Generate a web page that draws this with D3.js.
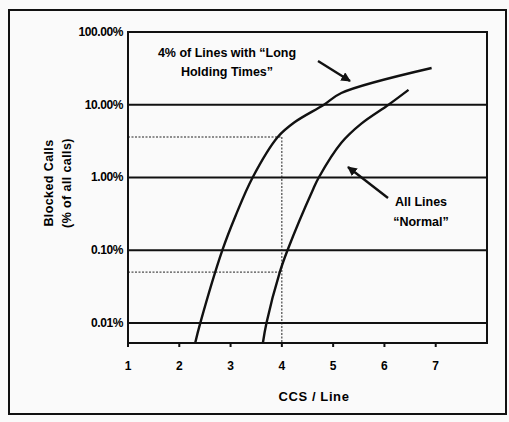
<!DOCTYPE html>
<html>
<head>
<meta charset="utf-8">
<style>
    body { margin: 0; background: #fafafa; }
    svg { display: block; font-family: "Liberation Sans", Arial, sans-serif; font-weight: bold; }
</style>
</head>
<body>
<svg width="509" height="422"></svg>
<script src="https://d3js.org/d3.v7.min.js"></script>
<script>
    // values (x = CCS/line, y = blocked calls fraction)
    let longX = [2.31, 2.41, 2.84, 3.10, 3.43, 3.92, 4.24, 4.82, 5.16, 6.92]
    let longY = [0.000053, 0.0001, 0.001, 0.003, 0.01, 0.036, 0.057, 0.10, 0.145, 0.32]

    let normX = [3.63, 3.70, 3.96, 4.11, 4.61, 4.72, 5.16, 5.55, 6.08, 6.47]
    let normY = [0.000053, 0.0001, 0.0005, 0.001, 0.0069, 0.01, 0.03, 0.055, 0.10, 0.16]

    let yTicks = [1, 0.1, 0.01, 0.001, 0.0001]
    let yTickLabels = ["100.00%", "10.00%", "1.00%", "0.10%", "0.01%"]
    let xTicks = [1, 2, 3, 4, 5, 6, 7]

    let svg = d3.select("svg")

    // outer frame
    svg.append("rect")
        .attr("x", 9).attr("y", 10)
        .attr("width", 497).attr("height", 404)
        .style("fill", "none")
        .style("stroke", "#111")
        .style("stroke-width", 2)

    let pl = 128, pr = 487, pt = 32, pb = 343

    let x = d3.scaleLinear().domain([1, 8]).range([pl, pr])
    let y = d3.scaleLog().domain([0.000053, 1]).range([pb, pt])

    // grid lines
    svg.selectAll(".grid")
        .data(yTicks.slice(1))
        .join("line")
        .attr("x1", pl).attr("x2", pr)
        .attr("y1", d => y(d)).attr("y2", d => y(d))
        .style("stroke", "#111")
        .style("stroke-width", 2)

    // dotted guides at 4 CCS
    let guides = [
        [[1, 0.036], [4, 0.036]],
        [[1, 0.0005], [4, 0.0005]],
        [[4, 0.036], [4, 0.000053]]
    ]
    svg.selectAll(".guide")
        .data(guides)
        .join("line")
        .attr("x1", d => x(d[0][0])).attr("y1", d => y(d[0][1]))
        .attr("x2", d => x(d[1][0])).attr("y2", d => y(d[1][1]))
        .style("stroke", "#222")
        .style("stroke-width", 1)
        .style("stroke-dasharray", "2,1.5")

    // plot frame
    svg.append("rect")
        .attr("x", pl).attr("y", pt)
        .attr("width", pr - pl).attr("height", pb - pt)
        .style("fill", "none")
        .style("stroke", "#111")
        .style("stroke-width", 2)

    // y labels
    svg.selectAll(".ylab")
        .data(yTicks)
        .join("text")
        .attr("x", pl - 5)
        .attr("y", d => y(d) + 4)
        .attr("text-anchor", "end")
        .style("font-size", "12px")
        .style("letter-spacing", "-0.4px")
        .text((d, i) => yTickLabels[i])

    // x ticks + labels
    svg.selectAll(".xtick")
        .data(xTicks)
        .join("line")
        .attr("x1", d => x(d)).attr("x2", d => x(d))
        .attr("y1", pb).attr("y2", pb + 4)
        .style("stroke", "#111")
        .style("stroke-width", 2)

    svg.selectAll(".xlab")
        .data(xTicks)
        .join("text")
        .attr("x", d => x(d))
        .attr("y", 370)
        .attr("text-anchor", "middle")
        .style("font-size", "12px")
        .text(d => d)

    svg.append("text")
        .attr("x", 314).attr("y", 401)
        .attr("text-anchor", "middle")
        .style("font-size", "13px")
        .style("letter-spacing", "0.6px")
        .text("CCS / Line")

    let yTitle = svg.append("text")
        .attr("transform", "translate(53,183) rotate(-90)")
        .attr("text-anchor", "middle")
        .style("font-size", "12.5px")
        .style("letter-spacing", "0.4px")
    yTitle.append("tspan").attr("x", 0).attr("dy", 0).text("Blocked Calls")
    yTitle.append("tspan").attr("x", 0).attr("dy", 18).text("(% of all calls)")

    // curves
    let line = d3.line()
        .x(d => x(d[0]))
        .y(d => y(d[1]))
        .curve(d3.curveCatmullRom.alpha(0.5))

    let series = [d3.zip(longX, longY), d3.zip(normX, normY)]
    svg.selectAll(".curve")
        .data(series)
        .join("path")
        .attr("d", line)
        .style("fill", "none")
        .style("stroke", "#111")
        .style("stroke-width", 2.4)

    // annotations
    svg.append("defs").append("marker")
        .attr("id", "arr")
        .attr("viewBox", "0 0 10 10")
        .attr("refX", 9).attr("refY", 5)
        .attr("markerWidth", 4).attr("markerHeight", 4)
        .attr("orient", "auto")
        .append("path")
        .attr("d", "M0,0L10,5L0,10z")
        .style("fill", "#111")

    let note1 = svg.append("text")
        .attr("text-anchor", "middle")
        .style("font-size", "12.5px")
        .style("letter-spacing", "0px")
    note1.append("tspan").attr("x", 227).attr("y", 57).text("4% of Lines with \u201cLong")
    note1.append("tspan").attr("x", 227).attr("y", 76).text("Holding Times\u201d")

    let note2 = svg.append("text")
        .attr("text-anchor", "middle")
        .style("font-size", "12.5px")
        .style("letter-spacing", "0px")
    note2.append("tspan").attr("x", 421).attr("y", 206).text("All Lines")
    note2.append("tspan").attr("x", 421).attr("y", 226).text("\u201cNormal\u201d")

    let arrows = [[318, 61, 350, 81], [388, 198, 348, 167]]
    svg.selectAll(".arrow")
        .data(arrows)
        .join("line")
        .attr("x1", d => d[0]).attr("y1", d => d[1])
        .attr("x2", d => d[2]).attr("y2", d => d[3])
        .style("stroke", "#111")
        .style("stroke-width", 2.4)
        .attr("marker-end", "url(#arr)")
</script>
</body>
</html>
